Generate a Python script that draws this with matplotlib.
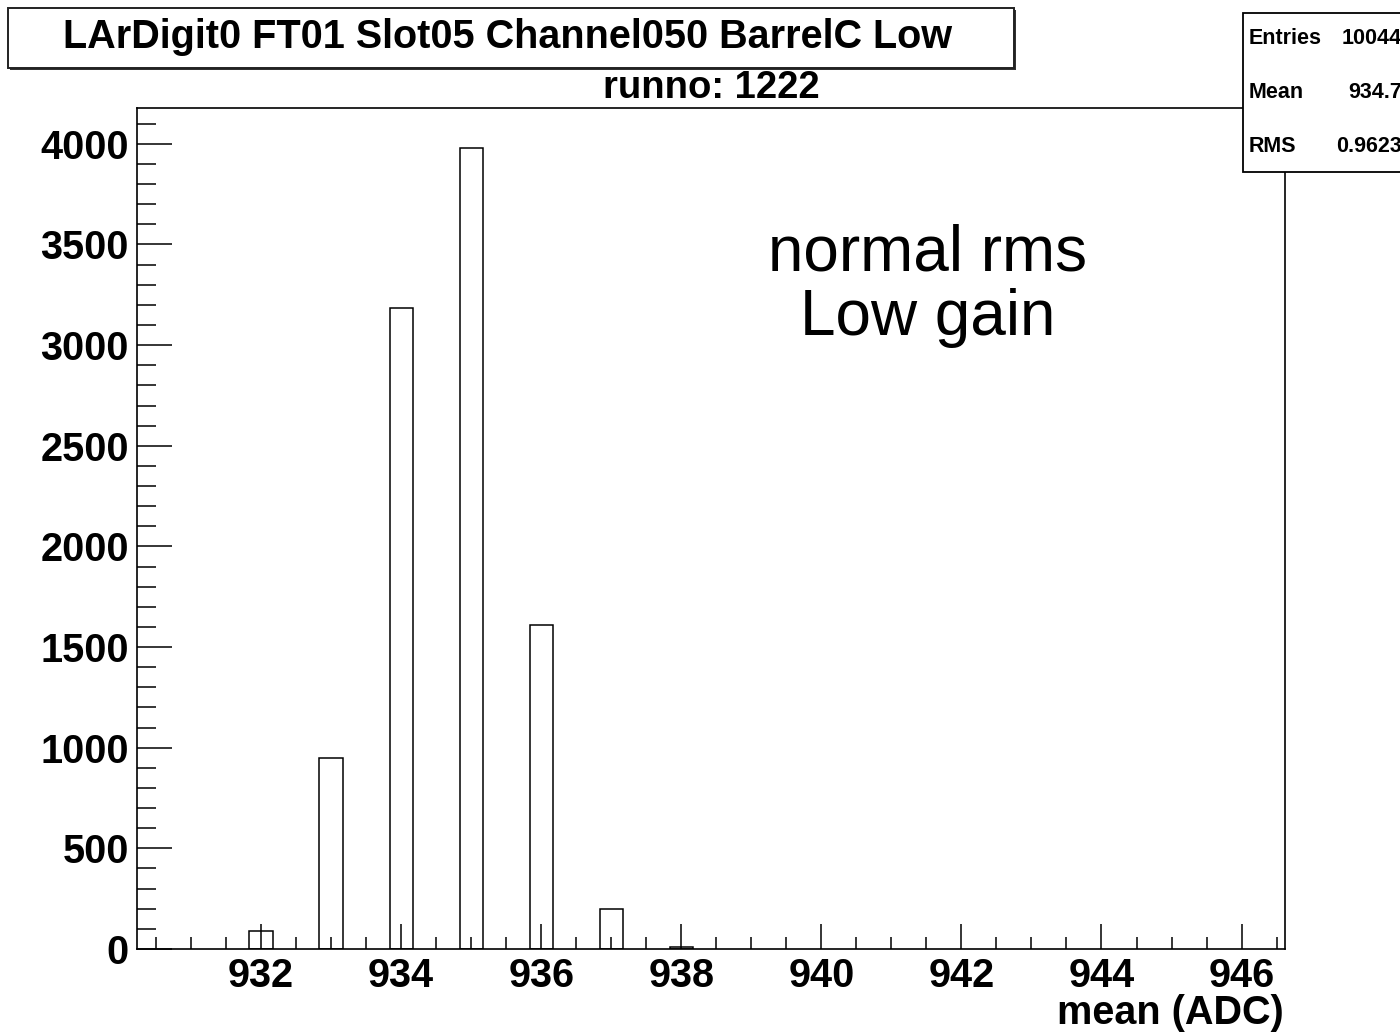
import matplotlib
matplotlib.use('Agg')
import matplotlib.pyplot as plt
from matplotlib.patches import Rectangle
from matplotlib.ticker import MultipleLocator


# histogram content
adc_values = [932, 933, 934, 935, 936, 937, 938]
counts = [91, 947, 3184, 3980, 1612, 197, 11]

title = "LArDigit0 FT01 Slot05 Channel050 BarrelC Low"
subtitle = "runno: 1222"
x_label = "mean (ADC)"
note = "normal rms\nLow gain"
stat_names = ["Entries", "Mean", "RMS"]
stat_values = ["10044", "934.7", "0.9623"]

W, H = 1400, 1033
FONT = ['Liberation Sans', 'DejaVu Sans']


def fx(px):
    return px / W


def fy(py):
    return 1 - py / H


def main():
    plt.rcParams['font.family'] = FONT
    fig = plt.figure(figsize=(W / 100, H / 100), dpi=100)
    fig.patch.set_facecolor('white')

    ax = fig.add_axes([fx(137), fy(949), fx(1285) - fx(137), fy(108) - fy(949)])
    ax.bar(adc_values, counts, width=0.33,
           facecolor='white', edgecolor='black', linewidth=1.1)

    ax.set_xlim(930.23, 946.62)
    ax.set_ylim(0, 4178)
    ax.xaxis.set_major_locator(MultipleLocator(2))
    ax.xaxis.set_minor_locator(MultipleLocator(0.5))
    ax.yaxis.set_major_locator(MultipleLocator(500))
    ax.yaxis.set_minor_locator(MultipleLocator(100))

    ax.tick_params(axis='x', which='major', direction='in', length=18, width=1.1,
                   labelsize=28.5, pad=6)
    ax.tick_params(axis='x', which='minor', direction='in', length=8.6, width=1.1)
    ax.tick_params(axis='y', which='major', direction='in', length=25, width=1.1,
                   labelsize=28.5, pad=6)
    ax.tick_params(axis='y', which='minor', direction='in', length=13.5, width=1.1)
    for lab in ax.get_xticklabels() + ax.get_yticklabels():
        lab.set_fontweight('bold')
    for sp in ax.spines.values():
        sp.set_linewidth(1.2)

    fig.text(fx(1284), fy(1013), x_label, ha='right', va='center',
             fontsize=28.5, fontweight='bold')

    # title box with a small ROOT-like shadow
    fig.patches.append(Rectangle((fx(10), fy(70)), fx(1014) - fx(8), fy(8) - fy(68),
                                 transform=fig.transFigure, facecolor='#333333',
                                 edgecolor='none'))
    fig.patches.append(Rectangle((fx(8), fy(68)), fx(1014) - fx(8), fy(8) - fy(68),
                                 transform=fig.transFigure, facecolor='white',
                                 edgecolor='#222222', linewidth=1.4))
    fig.text(fx(508), fy(37), title, ha='center', va='center',
             fontsize=28.5, fontweight='bold')
    fig.text(fx(711), fy(88), subtitle, ha='center', va='center',
             fontsize=27.5, fontweight='bold')

    # stats box (runs off the right edge)
    fig.patches.append(Rectangle((fx(1243), fy(172)), fx(1450) - fx(1243), fy(13) - fy(172),
                                 transform=fig.transFigure, facecolor='white',
                                 edgecolor='black', linewidth=1.3, zorder=5))
    for i, (name, val) in enumerate(zip(stat_names, stat_values)):
        y = fy(38 + 54 * i)
        fig.text(fx(1249), y, name, ha='left', va='center', fontsize=15.5,
                 fontweight='bold', zorder=6)
        fig.text(fx(1402), y, val, ha='right', va='center', fontsize=15.5,
                 fontweight='bold', zorder=6)

    fig.text(fx(928), fy(286), note, ha='center', va='center', fontsize=46,
             linespacing=1.1, multialignment='center')

    fig.savefig('out.png', dpi=100)


if __name__ == '__main__':
    main()
